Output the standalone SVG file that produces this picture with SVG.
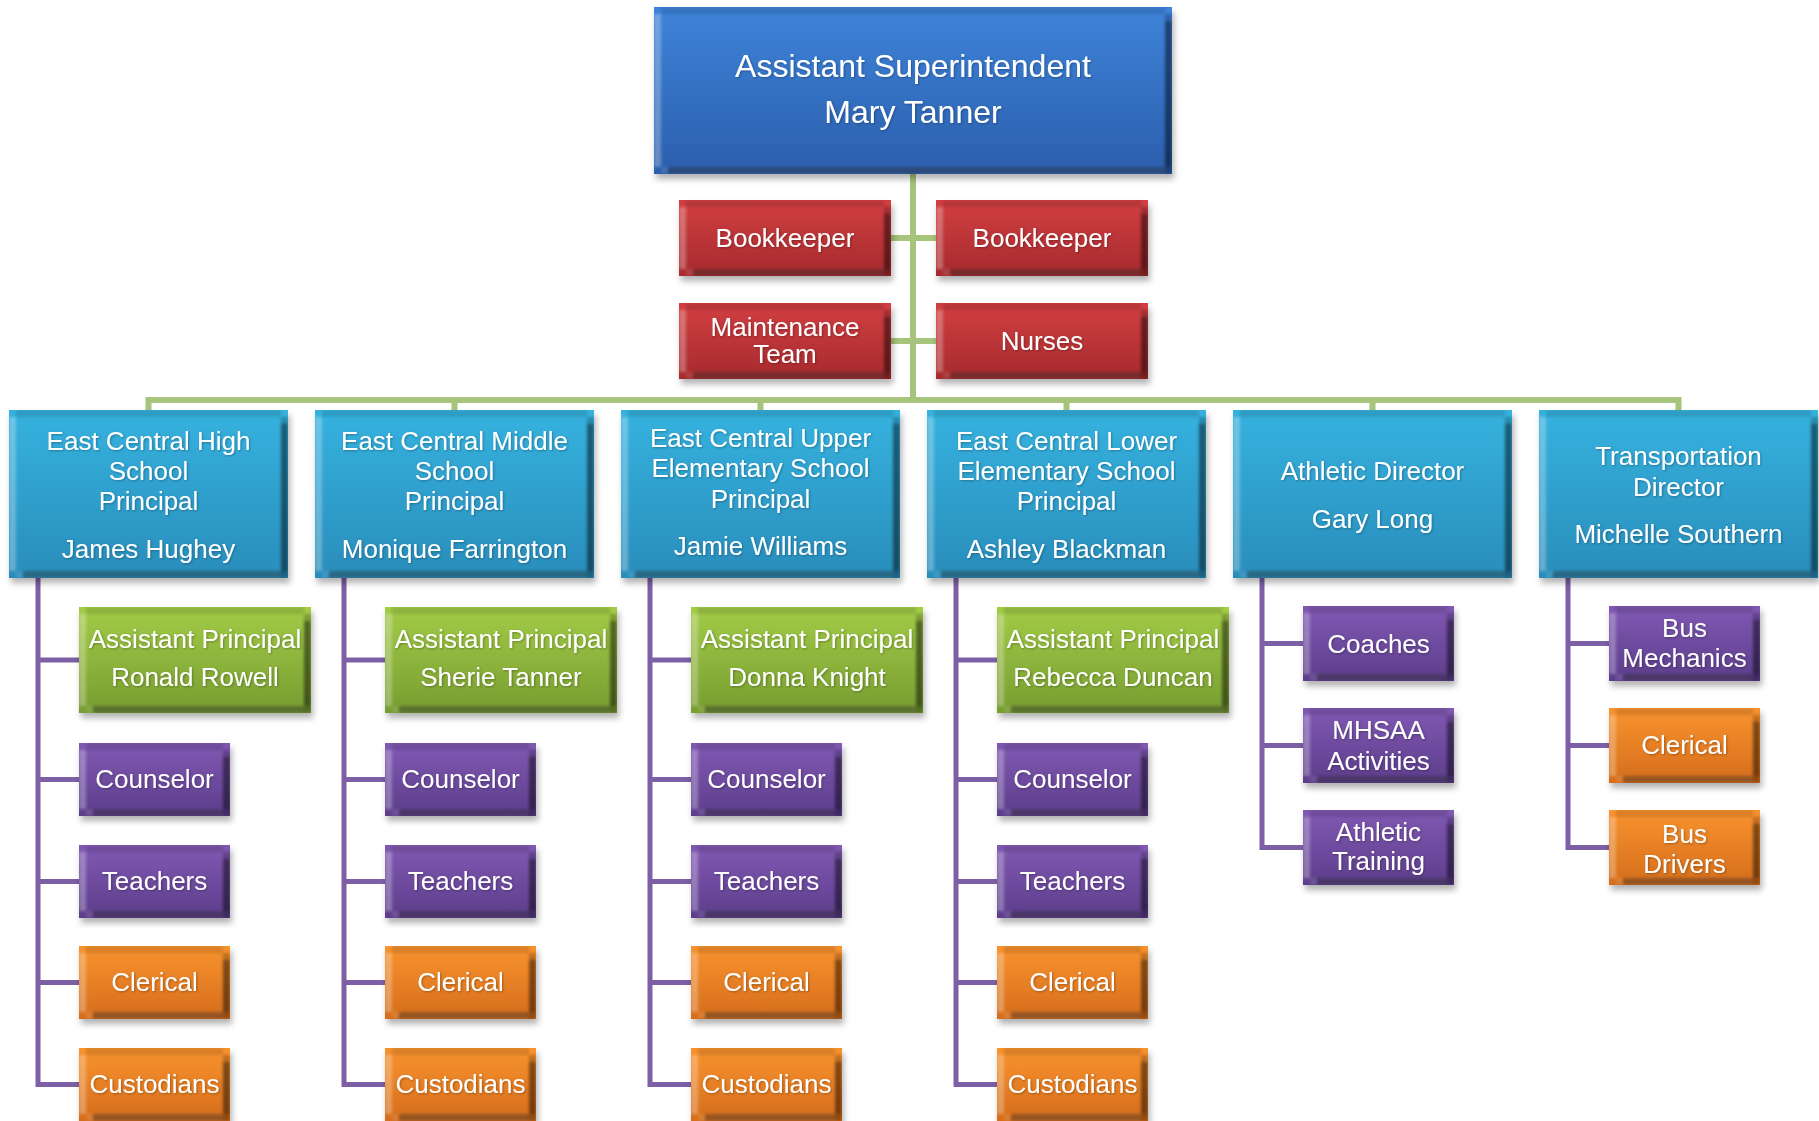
<svg xmlns="http://www.w3.org/2000/svg" width="1819" height="1121" viewBox="0 0 1819 1121">
<style>
.t{font-family:"Liberation Sans",Arial,Helvetica,sans-serif;font-size:26px;fill:#fff;text-anchor:middle;filter:url(#ts)}
.tt{font-size:32px}
.box{filter:url(#bev)}
.blue{fill:url(#gBlue)}
.red{fill:url(#gRed)}
.cyan{fill:url(#gCyan)}
.green{fill:url(#gGreen)}
.purple{fill:url(#gPurple)}
.orange{fill:url(#gOrange)}
.cg{fill:none;stroke:#a6c47c;stroke-width:6}
.cp{fill:none;stroke:#7d5fa6;stroke-width:5}
</style>
<defs>
<linearGradient id="gBlue" x1="0" y1="0" x2="0" y2="1"><stop offset="0" stop-color="#3e84da"/><stop offset="1" stop-color="#2b5eac"/></linearGradient>
<linearGradient id="gRed" x1="0" y1="0" x2="0" y2="1"><stop offset="0" stop-color="#d23f42"/><stop offset="1" stop-color="#a62a2d"/></linearGradient>
<linearGradient id="gCyan" x1="0" y1="0" x2="0" y2="1"><stop offset="0" stop-color="#36b2df"/><stop offset="1" stop-color="#298dbb"/></linearGradient>
<linearGradient id="gGreen" x1="0" y1="0" x2="0" y2="1"><stop offset="0" stop-color="#a3cc47"/><stop offset="1" stop-color="#779c31"/></linearGradient>
<linearGradient id="gPurple" x1="0" y1="0" x2="0" y2="1"><stop offset="0" stop-color="#8159b3"/><stop offset="1" stop-color="#5c3d8b"/></linearGradient>
<linearGradient id="gOrange" x1="0" y1="0" x2="0" y2="1"><stop offset="0" stop-color="#f8932e"/><stop offset="1" stop-color="#d56d1b"/></linearGradient>
<filter id="ts" x="-10%" y="-20%" width="120%" height="150%">
<feDropShadow dx="1" dy="1" stdDeviation="0.8" flood-color="#000" flood-opacity="0.3"/>
</filter>
<filter id="bev" x="-5%" y="-10%" width="112%" height="125%" color-interpolation-filters="sRGB">
<feGaussianBlur in="SourceAlpha" stdDeviation="3" result="b"/>
<feOffset in="b" dx="2" dy="5" result="bo"/>
<feFlood flood-color="#000" flood-opacity="0.3"/>
<feComposite in2="bo" operator="in" result="shadow"/>
<feMorphology in="SourceAlpha" operator="erode" radius="7" result="inner"/>
<feComposite in="SourceAlpha" in2="inner" operator="out" result="ring"/>
<feOffset in="inner" dx="-7" result="iL"/>
<feComposite in="ring" in2="iL" operator="in" result="L"/>
<feOffset in="inner" dx="7" result="iR"/>
<feComposite in="ring" in2="iR" operator="in" result="R"/>
<feOffset in="inner" dy="-7" result="iT"/>
<feComposite in="ring" in2="iT" operator="in" result="T"/>
<feOffset in="inner" dy="7" result="iB"/>
<feComposite in="ring" in2="iB" operator="in" result="B"/>
<feOffset in="inner" dx="7" dy="7" result="iBR"/>
<feComposite in="ring" in2="iBR" operator="in" result="BR"/>
<feFlood flood-color="#fff" flood-opacity="0.28"/>
<feComposite in2="L" operator="in" result="Lc"/>
<feFlood flood-color="#000" flood-opacity="0.22"/>
<feComposite in2="R" operator="in" result="Rc"/>
<feFlood flood-color="#000" flood-opacity="0.12"/>
<feComposite in2="T" operator="in" result="Tc"/>
<feFlood flood-color="#fff" flood-opacity="0.1"/>
<feComposite in2="B" operator="in" result="Bc"/>
<feFlood flood-color="#000" flood-opacity="0.32"/>
<feComposite in2="BR" operator="in" result="BRc"/>
<feMerge result="bv">
<feMergeNode in="Lc"/>
<feMergeNode in="Rc"/>
<feMergeNode in="Tc"/>
<feMergeNode in="Bc"/>
<feMergeNode in="BRc"/>
</feMerge>
<feGaussianBlur in="bv" stdDeviation="1.4" result="bvb"/>
<feComposite in="bvb" in2="SourceAlpha" operator="in" result="bvc"/>
<feMerge>
<feMergeNode in="shadow"/>
<feMergeNode in="SourceGraphic"/>
<feMergeNode in="bvc"/>
</feMerge>
</filter>
</defs>
<rect width="1819" height="1121" fill="#fff"/>

<g id="connectors">
<path class="cg" d="M913,174 V400 M148.5,410 V400 H1678.5 V410 M454.5,400 V410 M760.5,400 V410 M1066.5,400 V410 M1372.5,400 V410 M891,238 H936 M891,341 H936"/>
<path class="cp" d="M38,578 V1084.5 H79 M38,660 H79 M38,779.5 H79 M38,881.5 H79 M38,982.5 H79"/>
<path class="cp" d="M344,578 V1084.5 H385 M344,660 H385 M344,779.5 H385 M344,881.5 H385 M344,982.5 H385"/>
<path class="cp" d="M650,578 V1084.5 H691 M650,660 H691 M650,779.5 H691 M650,881.5 H691 M650,982.5 H691"/>
<path class="cp" d="M956,578 V1084.5 H997 M956,660 H997 M956,779.5 H997 M956,881.5 H997 M956,982.5 H997"/>
<path class="cp" d="M1262,578 V847.5 H1303 M1262,643.5 H1303 M1262,745.5 H1303"/>
<path class="cp" d="M1568,578 V847.5 H1609 M1568,643.5 H1609 M1568,745.5 H1609"/>
</g>

<g id="n-super"><rect class="box blue" x="654" y="7" width="518" height="167"/>
<text class="t tt" x="913" y="77">Assistant Superintendent</text><text class="t tt" x="913" y="123">Mary Tanner</text></g>

<g id="n-book1"><rect class="box red" x="679" y="200" width="212" height="76"/><text class="t" x="785" y="247">Bookkeeper</text></g>
<g id="n-book2"><rect class="box red" x="936" y="200" width="212" height="76"/><text class="t" x="1042" y="247">Bookkeeper</text></g>
<g id="n-maint"><rect class="box red" x="679" y="303" width="212" height="76"/><text class="t" x="785" y="336">Maintenance</text><text class="t" x="785" y="363">Team</text></g>
<g id="n-nurses"><rect class="box red" x="936" y="303" width="212" height="76"/><text class="t" x="1042" y="350">Nurses</text></g>

<g id="n-hs"><rect class="box cyan" x="9" y="410" width="279" height="168"/>
<text class="t" x="148.5" y="450">East Central High</text><text class="t" x="148.5" y="480">School</text><text class="t" x="148.5" y="510">Principal</text><text class="t" x="148.5" y="558">James Hughey</text></g>
<g id="n-ms"><rect class="box cyan" x="315" y="410" width="279" height="168"/>
<text class="t" x="454.5" y="450">East Central Middle</text><text class="t" x="454.5" y="480">School</text><text class="t" x="454.5" y="510">Principal</text><text class="t" x="454.5" y="558">Monique Farrington</text></g>
<g id="n-ues"><rect class="box cyan" x="621" y="410" width="279" height="168"/>
<text class="t" x="760.5" y="447">East Central Upper</text><text class="t" x="760.5" y="477">Elementary School</text><text class="t" x="760.5" y="508">Principal</text><text class="t" x="760.5" y="555">Jamie Williams</text></g>
<g id="n-les"><rect class="box cyan" x="927" y="410" width="279" height="168"/>
<text class="t" x="1066.5" y="450">East Central Lower</text><text class="t" x="1066.5" y="480">Elementary School</text><text class="t" x="1066.5" y="510">Principal</text><text class="t" x="1066.5" y="558">Ashley Blackman</text></g>
<g id="n-ath"><rect class="box cyan" x="1233" y="410" width="279" height="168"/>
<text class="t" x="1372.5" y="480">Athletic Director</text><text class="t" x="1372.5" y="528">Gary Long</text></g>
<g id="n-trans"><rect class="box cyan" x="1539" y="410" width="279" height="168"/>
<text class="t" x="1678.5" y="465">Transportation</text><text class="t" x="1678.5" y="496">Director</text><text class="t" x="1678.5" y="543">Michelle Southern</text></g>

<g id="n-hs-ap"><rect class="box green" x="79" y="607" width="232" height="106"/><text class="t" x="195" y="648">Assistant Principal</text><text class="t" x="195" y="686">Ronald Rowell</text></g>
<g id="n-hs-c"><rect class="box purple" x="79" y="743" width="151" height="73"/><text class="t" x="154.5" y="788">Counselor</text></g>
<g id="n-hs-t"><rect class="box purple" x="79" y="845" width="151" height="73"/><text class="t" x="154.5" y="890">Teachers</text></g>
<g id="n-hs-cl"><rect class="box orange" x="79" y="946" width="151" height="73"/><text class="t" x="154.5" y="991">Clerical</text></g>
<g id="n-hs-cu"><rect class="box orange" x="79" y="1048" width="151" height="73"/><text class="t" x="154.5" y="1093">Custodians</text></g>

<g id="n-ms-ap"><rect class="box green" x="385" y="607" width="232" height="106"/><text class="t" x="501" y="648">Assistant Principal</text><text class="t" x="501" y="686">Sherie Tanner</text></g>
<g id="n-ms-c"><rect class="box purple" x="385" y="743" width="151" height="73"/><text class="t" x="460.5" y="788">Counselor</text></g>
<g id="n-ms-t"><rect class="box purple" x="385" y="845" width="151" height="73"/><text class="t" x="460.5" y="890">Teachers</text></g>
<g id="n-ms-cl"><rect class="box orange" x="385" y="946" width="151" height="73"/><text class="t" x="460.5" y="991">Clerical</text></g>
<g id="n-ms-cu"><rect class="box orange" x="385" y="1048" width="151" height="73"/><text class="t" x="460.5" y="1093">Custodians</text></g>

<g id="n-ues-ap"><rect class="box green" x="691" y="607" width="232" height="106"/><text class="t" x="807" y="648">Assistant Principal</text><text class="t" x="807" y="686">Donna Knight</text></g>
<g id="n-ues-c"><rect class="box purple" x="691" y="743" width="151" height="73"/><text class="t" x="766.5" y="788">Counselor</text></g>
<g id="n-ues-t"><rect class="box purple" x="691" y="845" width="151" height="73"/><text class="t" x="766.5" y="890">Teachers</text></g>
<g id="n-ues-cl"><rect class="box orange" x="691" y="946" width="151" height="73"/><text class="t" x="766.5" y="991">Clerical</text></g>
<g id="n-ues-cu"><rect class="box orange" x="691" y="1048" width="151" height="73"/><text class="t" x="766.5" y="1093">Custodians</text></g>

<g id="n-les-ap"><rect class="box green" x="997" y="607" width="232" height="106"/><text class="t" x="1113" y="648">Assistant Principal</text><text class="t" x="1113" y="686">Rebecca Duncan</text></g>
<g id="n-les-c"><rect class="box purple" x="997" y="743" width="151" height="73"/><text class="t" x="1072.5" y="788">Counselor</text></g>
<g id="n-les-t"><rect class="box purple" x="997" y="845" width="151" height="73"/><text class="t" x="1072.5" y="890">Teachers</text></g>
<g id="n-les-cl"><rect class="box orange" x="997" y="946" width="151" height="73"/><text class="t" x="1072.5" y="991">Clerical</text></g>
<g id="n-les-cu"><rect class="box orange" x="997" y="1048" width="151" height="73"/><text class="t" x="1072.5" y="1093">Custodians</text></g>

<g id="n-ath-co"><rect class="box purple" x="1303" y="606" width="151" height="75"/><text class="t" x="1378.5" y="653">Coaches</text></g>
<g id="n-ath-mh"><rect class="box purple" x="1303" y="708" width="151" height="75"/><text class="t" x="1378.5" y="739">MHSAA</text><text class="t" x="1378.5" y="770">Activities</text></g>
<g id="n-ath-tr"><rect class="box purple" x="1303" y="810" width="151" height="75"/><text class="t" x="1378.5" y="841">Athletic</text><text class="t" x="1378.5" y="870">Training</text></g>

<g id="n-tr-bm"><rect class="box purple" x="1609" y="606" width="151" height="75"/><text class="t" x="1684.5" y="637">Bus</text><text class="t" x="1684.5" y="667">Mechanics</text></g>
<g id="n-tr-cl"><rect class="box orange" x="1609" y="708" width="151" height="75"/><text class="t" x="1684.5" y="754">Clerical</text></g>
<g id="n-tr-bd"><rect class="box orange" x="1609" y="810" width="151" height="75"/><text class="t" x="1684.5" y="843">Bus</text><text class="t" x="1684.5" y="873">Drivers</text></g>
</svg>
